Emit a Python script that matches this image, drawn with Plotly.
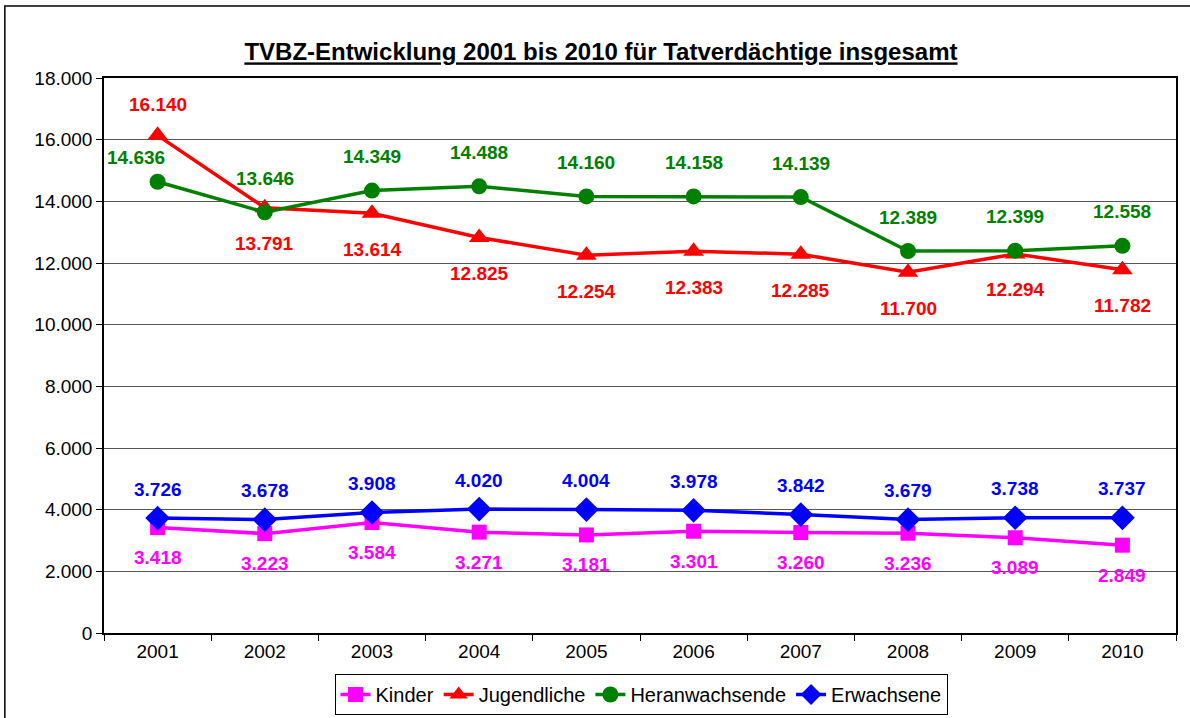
import plotly.graph_objects as go

years = ["2001", "2002", "2003", "2004", "2005", "2006", "2007", "2008", "2009", "2010"]
kinder = [3418, 3223, 3584, 3271, 3181, 3301, 3260, 3236, 3089, 2849]
jugendliche = [16140, 13791, 13614, 12825, 12254, 12383, 12285, 11700, 12294, 11782]
heranwachsende = [14636, 13646, 14349, 14488, 14160, 14158, 14139, 12389, 12399, 12558]
erwachsene = [3726, 3678, 3908, 4020, 4004, 3978, 3842, 3679, 3738, 3737]

title = "TVBZ-Entwicklung 2001 bis 2010 für Tatverdächtige insgesamt"
font = "Liberation Sans, Arial, sans-serif"


def de(v):
    # German thousands separator
    return f"{v:,}".replace(",", ".")


# name, values, colour, marker symbol, marker size, label shift (px, + = up)
series = [
    ("Kinder", kinder, "#FF00FF", "square", 15, -30),
    ("Jugendliche", jugendliche, "#FF0000", "triangle-up", 18, -36),
    ("Heranwachsende", heranwachsende, "#008000", "circle", 16, 34),
    ("Erwachsene", erwachsene, "#0000FF", "diamond", 19, 29),
]

fig = go.Figure()
for name, vals, color, symbol, msize, shift in series:
    fig.add_trace(go.Scatter(
        x=years, y=vals, name=name, mode="lines+markers",
        line=dict(color=color, width=3.5),
        marker=dict(symbol=symbol, size=msize, color=color),
    ))
    for i, v in enumerate(vals):
        s, xs = shift, 0
        # a couple of labels were moved by hand in the original
        if name == "Jugendliche" and i == 0:
            s = 31
        if name == "Heranwachsende" and i == 0:
            s, xs = 24, -22
        # x as category index so "2001" is not read as a number
        fig.add_annotation(x=i, y=v, text=f"<b>{de(v)}</b>", showarrow=False,
                           yshift=s, xshift=xs,
                           font=dict(family=font, size=19, color=color))

# outer chart frame (right and bottom edges are cut off in the original)
fig.add_shape(type="rect", xref="paper", yref="paper",
              x0=-0.0925, x1=1.2, y0=-0.3, y1=1.1297,
              line=dict(color="black", width=1.5), layer="below")

fig.update_layout(
    width=1190, height=718,
    margin=dict(l=104, r=14, t=78, b=85),
    paper_bgcolor="white", plot_bgcolor="white",
    separators=",.",
    font=dict(family=font, size=19, color="black"),
    title=dict(text=f"<b><u>{title}</u></b>", x=0.505, xref="container",
               y=1 - 52 / 718, yref="container", yanchor="middle",
               font=dict(family=font, size=24, color="black")),
    showlegend=True,
    legend=dict(orientation="h", x=641 / 1190, xanchor="center", xref="container",
                y=1 - 674 / 718, yanchor="top", yref="container",
                bordercolor="black", borderwidth=1, font=dict(family=font, size=20),
                itemwidth=30, tracegroupgap=0),
)
fig.update_xaxes(type="category", range=[-0.5, 9.5], tickson="boundaries",
                 ticks="outside", ticklen=6, tickcolor="black",
                 showline=True, linecolor="black", linewidth=2, mirror=True,
                 showgrid=False, tickfont=dict(size=19), automargin=False)
fig.update_yaxes(range=[0, 18000], dtick=2000, tickformat=",.0f",
                 ticks="outside", ticklen=6, tickcolor="black",
                 showline=True, linecolor="black", linewidth=1.5, mirror=True,
                 showgrid=True, gridcolor="#555555", gridwidth=1,
                 zeroline=False, tickfont=dict(size=19), automargin=False)

# drop the browser's default 8px body margin so the chart sits at the page corner
fig.write_html("out.html", config={"displayModeBar": False},
               post_script="document.body.style.margin='0';")
